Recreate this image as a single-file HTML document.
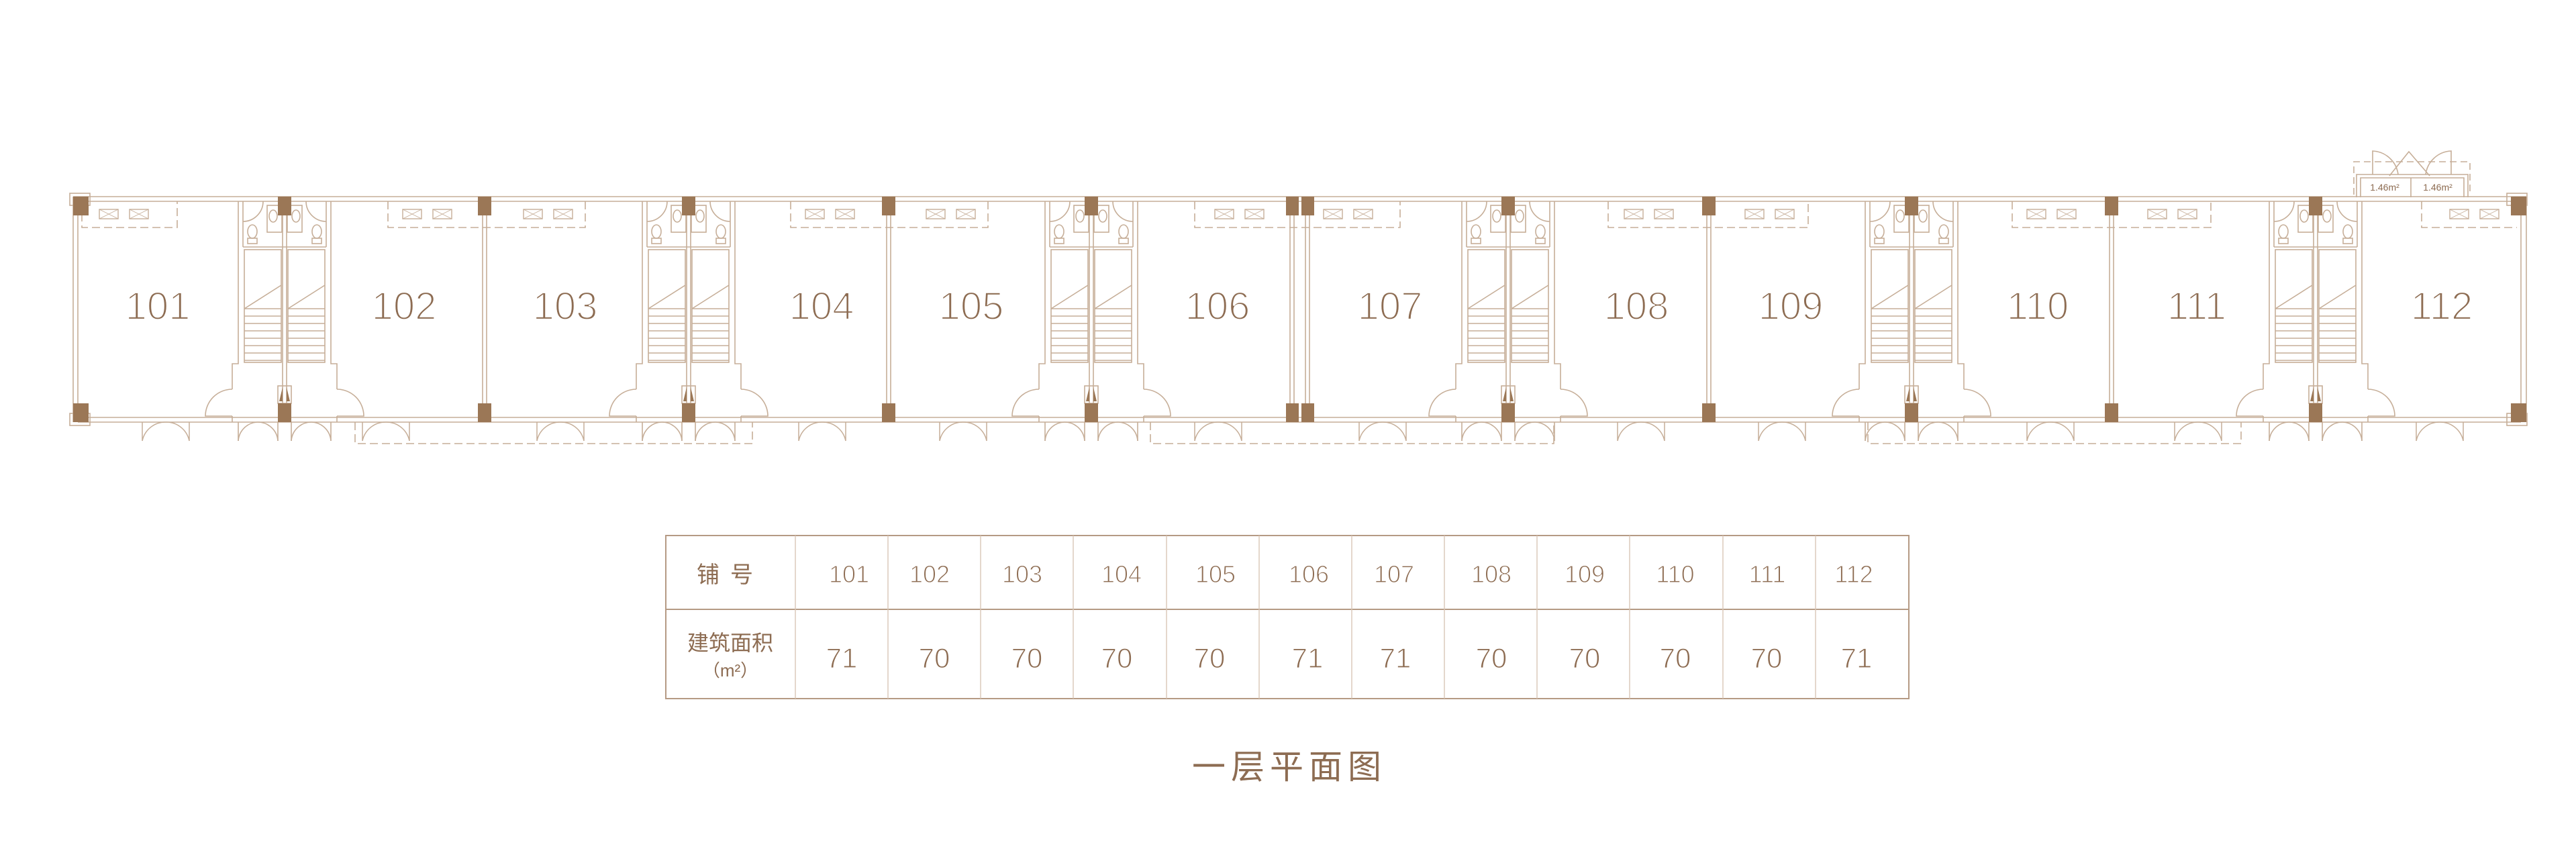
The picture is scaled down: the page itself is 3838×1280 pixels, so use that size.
<!DOCTYPE html>
<html><head><meta charset="utf-8">
<style>
html,body{margin:0;padding:0;background:#fff;}
body{width:3838px;height:1280px;overflow:hidden;}
svg{display:block;}
text{font-family:"Liberation Sans","Noto Sans CJK SC",sans-serif;fill:#8d6c52;}
.thin text{stroke:#fff;stroke-width:2.2px;}
.thin2 text{stroke:#fff;stroke-width:1.2px;}
</style></head><body>
<svg width="3838" height="1280" viewBox="0 0 3838 1280" xmlns="http://www.w3.org/2000/svg">
<defs>
<g id="core" fill="none" stroke="#c6ae98" stroke-width="1.6">
  <path d="M-69 300 V542 H-78 V580 M69 300 V542 H78 V580"/>
  <path d="M-62 300 V368 M62 300 V368"/>
  <path d="M-3 320 V603 M3 320 V603"/>
  <path d="M-62 368 H62"/>
  <path d="M-62 330 A30 30 0 0 0 -32 300 M62 330 A30 30 0 0 1 32 300"/>
  <rect x="-26" y="306" width="22" height="40"/><rect x="4" y="306" width="22" height="40"/>
  <ellipse cx="-17" cy="322" rx="6" ry="9"/><ellipse cx="17" cy="322" rx="6" ry="9"/>
  <ellipse cx="-48" cy="345" rx="7" ry="10"/><ellipse cx="48" cy="345" rx="7" ry="10"/>
  <rect x="-55" y="355" width="14" height="8"/><rect x="41" y="355" width="14" height="8"/>
  <rect x="-60" y="372" width="55" height="168"/><rect x="5" y="372" width="55" height="168"/>
  <path d="M-60 460 L-5 425 M5 460 L60 425"/>
  <path d="M-60 460H-5M-60 471H-5M-60 482H-5M-60 493H-5M-60 504H-5M-60 515H-5M-60 526H-5M-60 537H-5"/>
  <path d="M5 460H60M5 471H60M5 482H60M5 493H60M5 504H60M5 515H60M5 526H60M5 537H60"/>
  <path d="M-78 580 A40 40 0 0 0 -118 620 H-78 M78 580 A40 40 0 0 1 118 620 H78"/>
  <path d="M-78 620 V629 M78 620 V629"/>
  <path d="M-69 629 V657 M-10 629 V657 M10 629 V657 M69 629 V657"/>
  <path d="M-69 657 A30 30 0 0 1 -40 629 M-10 657 A30 30 0 0 0 -40 629 M10 657 A30 30 0 0 1 40 629 M69 657 A30 30 0 0 0 40 629"/>
  <rect x="-10" y="575" width="20" height="26"/>
</g>
<g id="coreFill" fill="#9b7756">
  <rect x="-10" y="293" width="20" height="28"/>
  <rect x="-10" y="601" width="20" height="28"/>
  <path d="M-8 598 L-3 577 L-3 598Z M8 598 L3 577 L3 598Z"/>
</g>
<g id="kit" fill="none" stroke="#c6ae98" stroke-width="1.4">
  <rect x="0" y="0" width="28" height="14"/><rect x="45" y="0" width="28" height="14"/>
  <path d="M0 0L28 14M28 0L0 14M45 0L73 14M73 0L45 14" stroke-width="0.8"/>
</g>
<g id="sdoor" fill="none" stroke="#c6ae98" stroke-width="1.5">
  <path d="M0 629 V657 M70 629 V657 M0 657 A35 35 0 0 1 35 629 M70 657 A35 35 0 0 0 35 629"/>
</g>
</defs>

<g fill="none" stroke="#c6ae98" stroke-width="1.6">
  <path d="M109 293 H3764 M116 300 H3756 M109 622 H3764 M116 629 H3756"/>
  <path d="M109 293 V629 M116 300 V622 M3764 293 V629 M3756 300 V622"/>
  <rect x="104" y="288" width="30" height="18"/><rect x="3735" y="288" width="30" height="18"/>
  <rect x="104" y="616" width="30" height="18"/><rect x="3735" y="616" width="30" height="18"/>
  <path d="M719 320 V603 M725 320 V603 M1321 320 V603 M1327 320 V603 M1922 320 V603 M1928 320 V603 M1945 320 V603 M1951 320 V603 M2543 320 V603 M2549 320 V603 M3143 320 V603 M3149 320 V603"/>
  <path d="M3511 294 V260 H3677 V294 M3517 294 V265 H3671 V294 M3592 265 V294"/>
  <path d="M3535 260 V225 A40 40 0 0 1 3573 260 M3652 260 V225 A40 40 0 0 0 3614 260 M3560 262 L3589 226 L3620 262"/>
  <path d="M3507 290 V241 H3680 V290" stroke-dasharray="10 6"/>
  <path d="M529 629 V661 H1121 V629 M1714 629 V661 H2315 V629 M2783 629 V661 H3339 V629" stroke-dasharray="12 6"/>
  <path d="M122 300 V339 H264 V300 M578 300 V339 H872 V300 M1178 300 V339 H1472 V300 M1780 300 V339 H2086 V300 M2396 300 V339 H2694 V300 M2998 300 V339 H3294 V300 M3608 300 V339 H3750" stroke-dasharray="12 6"/>
</g>
<use href="#kit" x="148" y="312"/>
<use href="#kit" x="600" y="312"/><use href="#kit" x="780" y="312"/>
<use href="#kit" x="1200" y="312"/><use href="#kit" x="1380" y="312"/>
<use href="#kit" x="1810" y="312"/><use href="#kit" x="1972" y="312"/>
<use href="#kit" x="2420" y="312"/><use href="#kit" x="2600" y="312"/>
<use href="#kit" x="3020" y="312"/><use href="#kit" x="3200" y="312"/>
<use href="#kit" x="3650" y="312"/>

<use href="#sdoor" x="212" y="0"/>
<use href="#sdoor" x="540" y="0"/><use href="#sdoor" x="800" y="0"/>
<use href="#sdoor" x="1190" y="0"/><use href="#sdoor" x="1400" y="0"/>
<use href="#sdoor" x="1780" y="0"/><use href="#sdoor" x="2025" y="0"/>
<use href="#sdoor" x="2410" y="0"/><use href="#sdoor" x="2620" y="0"/>
<use href="#sdoor" x="3020" y="0"/><use href="#sdoor" x="3240" y="0"/>
<use href="#sdoor" x="3600" y="0"/>

<use href="#core" x="424" y="0"/><use href="#core" x="1026" y="0"/><use href="#core" x="1626" y="0"/>
<use href="#core" x="2247" y="0"/><use href="#core" x="2848" y="0"/><use href="#core" x="3450" y="0"/>
<use href="#coreFill" x="424" y="0"/><use href="#coreFill" x="1026" y="0"/><use href="#coreFill" x="1626" y="0"/>
<use href="#coreFill" x="2247" y="0"/><use href="#coreFill" x="2848" y="0"/><use href="#coreFill" x="3450" y="0"/>

<g fill="#9b7756">
  <rect x="109" y="293" width="23" height="28"/><rect x="3741" y="293" width="23" height="28"/>
  <rect x="109" y="601" width="23" height="28"/><rect x="3741" y="601" width="23" height="28"/>
  <rect x="712" y="293" width="20" height="28"/><rect x="712" y="601" width="20" height="28"/>
  <rect x="1314" y="293" width="20" height="28"/><rect x="1314" y="601" width="20" height="28"/>
  <rect x="1916" y="293" width="19" height="28"/><rect x="1939" y="293" width="19" height="28"/>
  <rect x="1916" y="601" width="19" height="28"/><rect x="1939" y="601" width="19" height="28"/>
  <rect x="2536" y="293" width="20" height="28"/><rect x="2536" y="601" width="20" height="28"/>
  <rect x="3136" y="293" width="20" height="28"/><rect x="3136" y="601" width="20" height="28"/>
</g>

<text x="3553" y="284" font-size="14" text-anchor="middle">1.46m²</text>
<text x="3632" y="284" font-size="14" text-anchor="middle">1.46m²</text>

<g class="thin" font-size="58" text-anchor="middle">
  <text x="235" y="476">101</text><text x="602" y="476">102</text><text x="842" y="476">103</text>
  <text x="1224" y="476">104</text><text x="1447" y="476">105</text><text x="1814" y="476">106</text>
  <text x="2071" y="476">107</text><text x="2438" y="476">108</text><text x="2668" y="476">109</text>
  <text x="3036" y="476">110</text><text x="3273" y="476">111</text><text x="3638" y="476">112</text>
</g>

<g fill="none" stroke="#b59a84" stroke-width="2">
  <rect x="992" y="798" width="1852" height="243"/>
  <path d="M992 908 H2844"/>
  <path d="M1185 798V1041M1323 798V1041M1461 798V1041M1599 798V1041M1738 798V1041M1876 798V1041M2014 798V1041M2152 798V1041M2290 798V1041M2428 798V1041M2567 798V1041M2705 798V1041" stroke="#d8c6b6" stroke-width="1.4"/>
</g>
<g text-anchor="middle">
  <text x="1088" y="868" font-size="34" letter-spacing="16">铺号</text>
  <text x="1088" y="969" font-size="32">建筑面积</text>
  <text x="1088" y="1008" font-size="26">（m²）</text>
</g>
<g class="thin2" font-size="36" text-anchor="middle">
  <text x="1265" y="868">101</text><text x="1385" y="868">102</text><text x="1523" y="868">103</text>
  <text x="1671" y="868">104</text><text x="1811" y="868">105</text><text x="1950" y="868">106</text>
  <text x="2077" y="868">107</text><text x="2222" y="868">108</text><text x="2361" y="868">109</text>
  <text x="2496" y="868">110</text><text x="2633" y="868">111</text><text x="2762" y="868">112</text>
</g>
<g class="thin2" font-size="42" text-anchor="middle">
  <text x="1254" y="995">71</text><text x="1392" y="995">70</text><text x="1530" y="995">70</text>
  <text x="1664" y="995">70</text><text x="1802" y="995">70</text><text x="1948" y="995">71</text>
  <text x="2079" y="995">71</text><text x="2222" y="995">70</text><text x="2361" y="995">70</text>
  <text x="2496" y="995">70</text><text x="2632" y="995">70</text><text x="2766" y="995">71</text>
</g>
<text x="1921" y="1160" font-size="50" text-anchor="middle" letter-spacing="8">一层平面图</text>
</svg>
</body></html>
